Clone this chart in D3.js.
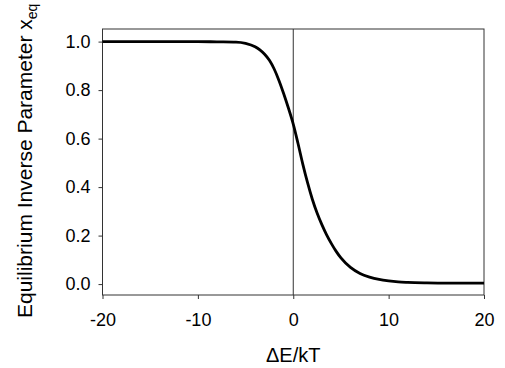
<!DOCTYPE html>
<html>
<head>
<meta charset="utf-8">
<script src="https://cdn.jsdelivr.net/npm/d3@7"></script>
<style>
  body { margin: 0; background: #fff; }
  svg { display: block; font-family: Arial, "Liberation Sans", sans-serif; }
</style>
</head>
<body>
<svg id="chart" width="505" height="368"></svg>
<script>
'use strict';

// Values
var energy = [-20, -15, -10, -8, -6, -5, -4, -3.5, -3, -2.5, -2, -1.5, -1, -0.5, 0, 0.5, 1, 1.5, 2, 2.5, 3, 3.5, 4, 4.5, 5, 6, 7, 8, 9, 10, 11, 12, 14, 16, 18, 20];
var xeq = [1.0, 1.0, 1.0, 0.999, 0.998, 0.993, 0.979, 0.966, 0.948, 0.923, 0.887, 0.84, 0.785, 0.725, 0.66, 0.58, 0.495, 0.418, 0.35, 0.293, 0.245, 0.203, 0.167, 0.135, 0.108, 0.069, 0.044, 0.029, 0.019, 0.013, 0.009, 0.007, 0.005, 0.004, 0.004, 0.004];
var xTicks = [-20, -10, 0, 10, 20];
var yTicks = [0.0, 0.2, 0.4, 0.6, 0.8, 1.0];

var svg = d3.select('#chart'),
    margin = { top: 29, left: 102.5, right: 21, bottom: 73 },
    width = 505 - margin.left - margin.right,
    height = 368 - margin.top - margin.bottom;

var x = d3.scaleLinear().domain([-20, 20]).range([0, width]);
var y = d3.scaleLinear().domain([-0.045, 1.052]).range([height, 0]);

var g = svg.append('g')
    .attr('transform', 'translate(' + margin.left + ',' + margin.top + ')');

// frame round the plot
g.append('rect')
    .attr('x', 0).attr('y', 0)
    .attr('width', width).attr('height', height)
    .attr('fill', 'none')
    .attr('stroke', '#333')
    .attr('stroke-width', 1);

// vertical line at zero
g.append('line')
    .attr('x1', x(0)).attr('x2', x(0))
    .attr('y1', 0).attr('y2', height)
    .attr('stroke', '#333')
    .attr('stroke-width', 1);

var xAxis = g.append('g')
    .attr('transform', 'translate(0,' + height + ')')
    .call(d3.axisBottom(x).tickValues(xTicks).tickSize(4).tickPadding(14).tickFormat(d => String(d)));

var yAxis = g.append('g')
    .call(d3.axisLeft(y).tickValues(yTicks).tickSize(4).tickPadding(8).tickFormat(d => d.toFixed(1)));

[xAxis, yAxis].forEach(function (ax) {
    ax.select('.domain').remove();
    ax.selectAll('line').attr('stroke', '#333');
    ax.selectAll('text')
        .attr('fill', '#000')
        .style('font-size', '18px')
        .style('font-family', 'Arial, "Liberation Sans", sans-serif');
});

// the curve
var data = energy.map(function (e, i) { return { e: e, v: xeq[i] }; });
g.append('path')
    .datum(data)
    .attr('fill', 'none')
    .attr('stroke', '#000')
    .attr('stroke-width', 2.8)
    .attr('stroke-linejoin', 'round')
    .attr('d', d3.line()
        .x(d => x(d.e))
        .y(d => y(d.v))
        .curve(d3.curveMonotoneX));

// axis titles
svg.append('text')
    .attr('x', margin.left + x(0))
    .attr('y', 362)
    .attr('text-anchor', 'middle')
    .style('font-size', '20px')
    .text('\u0394E/kT');

var yTitle = svg.append('text')
    .attr('transform', 'translate(32,318) rotate(-90)')
    .attr('text-anchor', 'start')
    .style('font-size', '21px');
yTitle.append('tspan').text('Equilibrium Inverse Parameter x');
yTitle.append('tspan')
    .attr('dy', 5)
    .style('font-size', '14px')
    .text('eq');
</script>
</body>
</html>
